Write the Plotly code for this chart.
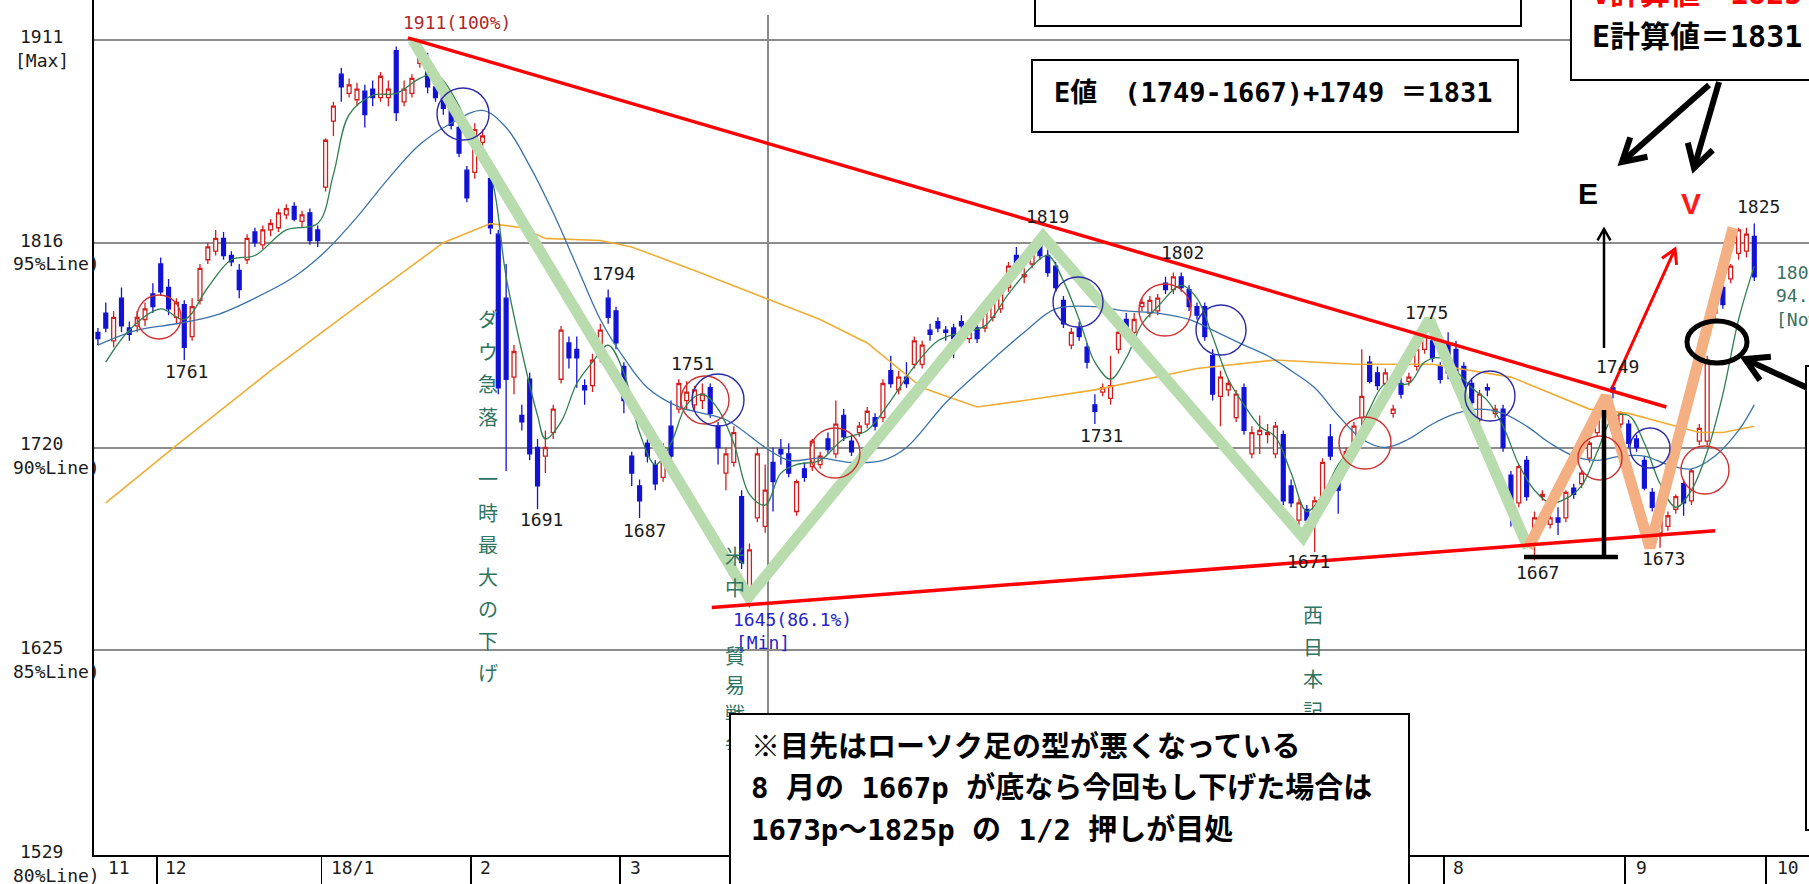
import math
import plotly.graph_objects as go

# ---------------- data (TOPIX daily candles) ----------------
O = [1774,1783,1770,1790,1776,1777,1780,1792,1806,1795,1781,1787,1772,1789,1808,1812,1818,1810,1803,1808,
     1821,1815,1822,1823,1829,1833,1826,1830,1822,1842,1873,1895,1886,1883,1887,1888,1884,1884,1906,1882,
     1886,1900,1897,1889,1886,1881,1870,1850,1849,1863,1846,1820,1790,1753,1735,1752,1720,1716,1727,1752,
     1769,1766,1749,1749,1762,1790,1784,1758,1716,1702,1722,1712,1706,1730,1738,1742,1740,1742,1748,1730,
     1708,1713,1697,1653,1687,1683,1713,1719,1717,1690,1710,1711,1712,1724,1717,1735,1723,1727,1731,1734,
     1734,1756,1747,1753,1759,1759,1775,1779,1775,1776,1779,1771,1776,1776,1781,1785,1795,1810,1800,1806,
     1815,1810,1805,1789,1768,1776,1767,1740,1746,1743,1766,1780,1774,1786,1783,1784,1797,1794,1800,1794,
     1786,1786,1763,1744,1747,1734,1748,1717,1726,1726,1717,1726,1702,1686,1691,1689,1697,1725,1705,1712,
     1721,1734,1760,1755,1750,1736,1750,1751,1758,1766,1770,1758,1769,1766,1758,1750,1733,1748,1736,1738,
     1707,1694,1714,1678,1697,1684,1687,1687,1701,1703,1715,1727,1738,1748,1731,1731,1724,1714,1699,1680,
     1683,1691,1703,1695,1723,1723,1783,1795,1799,1811,1812,1819]
H = [1776,1788,1784,1795,1779,1784,1788,1797,1809,1799,1790,1789,1790,1806,1816,1822,1821,1812,1806,1820,
     1823,1824,1827,1832,1834,1835,1831,1832,1824,1865,1882,1898,1893,1891,1890,1892,1896,1892,1908,1892,
     1895,1911,1905,1892,1888,1884,1872,1852,1872,1869,1849,1822,1806,1768,1740,1755,1724,1728,1740,1777,
     1772,1772,1752,1764,1778,1794,1786,1760,1718,1705,1724,1714,1722,1742,1752,1751,1749,1750,1750,1732,
     1720,1730,1700,1675,1720,1712,1720,1724,1722,1705,1713,1724,1718,1727,1742,1738,1726,1732,1739,1736,
     1752,1763,1756,1760,1772,1770,1778,1781,1777,1778,1782,1778,1779,1786,1791,1794,1807,1814,1804,1815,
     1819,1813,1807,1791,1776,1779,1769,1745,1750,1763,1776,1783,1783,1790,1791,1792,1800,1802,1802,1796,
     1788,1788,1766,1756,1752,1747,1750,1730,1735,1731,1732,1728,1705,1696,1693,1697,1715,1731,1708,1720,
     1732,1766,1763,1758,1757,1740,1753,1755,1768,1775,1772,1760,1774,1770,1760,1752,1747,1750,1740,1740,
     1709,1712,1716,1690,1700,1689,1692,1700,1703,1709,1723,1737,1743,1749,1737,1733,1726,1716,1701,1687,
     1690,1698,1705,1710,1731,1763,1788,1797,1806,1823,1823,1825]
L = [1768,1774,1767,1774,1770,1774,1777,1783,1791,1782,1778,1761,1770,1787,1806,1810,1808,1805,1790,1806,
     1814,1813,1819,1821,1827,1826,1823,1815,1814,1840,1866,1882,1884,1880,1870,1880,1882,1880,1873,1880,
     1884,1898,1886,1882,1876,1869,1856,1835,1846,1858,1820,1745,1709,1745,1728,1714,1691,1708,1724,1750,
     1757,1748,1740,1746,1760,1778,1766,1736,1702,1687,1713,1700,1704,1714,1736,1738,1737,1738,1734,1712,
     1700,1711,1663,1645,1685,1680,1690,1712,1706,1688,1704,1709,1710,1717,1715,1723,1716,1725,1729,1728,
     1732,1748,1745,1748,1757,1757,1770,1774,1770,1762,1775,1769,1769,1774,1779,1783,1793,1800,1797,1804,
     1808,1800,1793,1776,1766,1770,1757,1731,1744,1740,1764,1772,1772,1784,1781,1782,1792,1792,1793,1784,
     1780,1770,1742,1730,1744,1732,1726,1715,1717,1722,1715,1693,1692,1683,1681,1671,1695,1714,1689,1710,
     1719,1730,1750,1747,1748,1734,1743,1749,1756,1764,1760,1750,1752,1750,1737,1738,1731,1744,1734,1718,
     1683,1692,1695,1667,1695,1682,1679,1685,1696,1701,1713,1725,1736,1743,1729,1720,1718,1700,1690,1673,
     1681,1689,1688,1693,1721,1721,1780,1785,1797,1808,1809,1798]
C = [1771,1776,1781,1777,1773,1781,1785,1786,1793,1785,1788,1767,1786,1804,1814,1818,1810,1807,1794,1818,
     1816,1822,1825,1830,1832,1827,1829,1817,1817,1864,1880,1889,1890,1888,1876,1884,1894,1888,1877,1888,
     1893,1906,1889,1884,1879,1871,1858,1837,1869,1866,1823,1748,1752,1765,1732,1717,1702,1720,1738,1775,
     1762,1762,1747,1761,1775,1781,1769,1742,1708,1695,1716,1703,1720,1716,1750,1746,1747,1745,1736,1720,
     1717,1727,1666,1672,1717,1700,1704,1717,1708,1704,1706,1723,1716,1719,1731,1725,1718,1730,1737,1730,
     1750,1750,1753,1750,1770,1768,1773,1776,1774,1771,1777,1776,1771,1784,1789,1792,1805,1802,1801,1813,
     1810,1802,1795,1778,1774,1772,1760,1737,1748,1749,1774,1774,1780,1788,1789,1790,1794,1800,1795,1786,
     1782,1772,1745,1753,1750,1745,1728,1727,1728,1727,1730,1695,1694,1694,1686,1695,1713,1716,1700,1718,
     1730,1744,1751,1749,1755,1738,1745,1753,1766,1772,1762,1752,1755,1753,1739,1741,1745,1747,1738,1720,
     1695,1711,1697,1687,1698,1687,1685,1699,1698,1708,1722,1736,1742,1746,1736,1722,1720,1701,1692,1686,
     1688,1697,1694,1709,1729,1761,1786,1787,1805,1822,1820,1800]

# moving-average lines, read at sparse points (candle index, value)
ma_short_i = [1,4,8,11,14,17,20,24,28,30,32,35,38,41,43,46,48,50,52,54,56,57,59,61,63,65,67,69,71,73,
              75,77,79,81,83,85,87,89,92,95,98,101,104,107,110,113,116,119,121,123,125,127,129,131,133,135,
              138,140,142,144,146,148,150,152,154,156,158,160,162,164,167,169,171,173,175,177,179,181,183,
              185,187,189,191,193,195,197,199,201,203,205,207,209,211]
ma_short_v = [1760,1775,1785,1780,1795,1808,1810,1822,1825,1848,1876,1885,1886,1893,1895,1880,1860,1848,1800,
              1765,1735,1724,1732,1750,1760,1768,1755,1727,1712,1722,1740,1745,1738,1722,1698,1693,1708,1712,
              1714,1724,1728,1742,1758,1770,1774,1777,1792,1805,1810,1798,1780,1760,1752,1762,1778,1786,1796,
              1790,1772,1752,1740,1730,1725,1708,1690,1698,1712,1722,1738,1750,1750,1760,1762,1756,1748,1742,
              1730,1712,1700,1694,1696,1702,1718,1734,1735,1722,1703,1692,1700,1718,1745,1780,1805]
ma_mid_i = [0,5,10,15,20,25,29,33,37,41,45,49,52,55,58,61,64,67,70,74,80,85,88,92,96,100,103,108,113,118,
            122,127,131,135,139,142,146,149,152,155,158,161,164,167,170,173,176,179,182,185,188,191,194,197,
            200,203,206,209,211]
ma_mid_v = [1768,1775,1778,1782,1790,1800,1812,1828,1846,1862,1872,1878,1870,1852,1830,1805,1780,1762,1748,
            1739,1733,1720,1714,1715,1713,1714,1720,1741,1758,1774,1785,1786,1784,1783,1780,1775,1768,1763,
            1756,1748,1735,1724,1720,1724,1731,1736,1738,1736,1730,1722,1716,1714,1716,1716,1712,1710,1716,
            1728,1740]
ma_long_i = [1,10,22,34,44,50,54,57,64,68,76,85,92,98,105,112,118,127,140,150,160,170,180,190,195,200,204,207,211]
ma_long_v = [1694,1721,1756,1789,1816,1825,1823,1818,1817,1814,1803,1790,1780,1769,1748,1739,1742,1747,1757,
             1761,1759,1759,1753,1738,1736,1731,1727,1727,1730]

# wave pivots (index, value) for the thick zig-zag lines
wave_green_i = [40.1, 82.9, 120.4, 153.5, 169.6, 182.2]
wave_green_v = [1911, 1650, 1819, 1678, 1780, 1673]
wave_orange_i = [182.2, 192.1, 197.7, 208.3]
wave_orange_v = [1673, 1744, 1673, 1823]

# trend lines (index, value)
trend_upper_i = [39.5, 199.8]
trend_upper_v = [1912, 1739]
trend_lower_i = [78.2, 206.0]
trend_lower_v = [1645, 1681]

# axis labels
y_ticks = [1911, 1816, 1720, 1625, 1529]
y_tick_sub = ["[Max]", "95%Line)", "90%Line)", "85%Line)", "80%Line)"]
month_bounds = [7.5, 28.5, 47.5, 66.5, 87.5, 107.5, 128.5, 149.5, 171.5, 194.5, 212.5]
month_labels = ["11", "12", "18/1", "2", "3", "8", "9", "10"]

# ---------------- pixel helpers (layout positions only) ----------------
PX0, PXW, PY0, PYS, VTOP = 94.0, 7.85, 40.0, 2.1335, 1911.0
PLOT_W, PLOT_H = 1809 - 94, 855
def X(px):
    return (px - PX0) / PXW - 0.5
def Y(py):
    return VTOP - (py - PY0) / PYS
def XP(px):
    return (px - PX0) / PLOT_W
def YP(py):
    return (PLOT_H - py) / PLOT_H

MONO = "DejaVu Sans Mono"
JP = "Noto Sans CJK JP"
MIX = "DejaVu Sans Mono, Noto Sans CJK JP"

fig = go.Figure()

# moving averages
fig.add_trace(go.Scatter(x=ma_long_i, y=ma_long_v, mode="lines", line=dict(color="#f0ad35", width=1.6), hoverinfo="skip"))
fig.add_trace(go.Scatter(x=ma_mid_i, y=ma_mid_v, mode="lines", line=dict(color="#3a72a8", width=1.3, shape="spline"), hoverinfo="skip"))
fig.add_trace(go.Scatter(x=ma_short_i, y=ma_short_v, mode="lines", line=dict(color="#2f8050", width=1.3, shape="spline"), hoverinfo="skip"))

# candles
fig.add_trace(go.Candlestick(
    x=list(range(len(C))), open=O, high=H, low=L, close=C,
    increasing=dict(line=dict(color="#d41e1e", width=1.3), fillcolor="#ffffff"),
    decreasing=dict(line=dict(color="#1212d6", width=1.3), fillcolor="#1212d6"),
    whiskerwidth=0, hoverinfo="skip"))

# thick waves
fig.add_trace(go.Scatter(x=wave_green_i, y=wave_green_v, mode="lines",
                         line=dict(color="#b9dcae", width=11), hoverinfo="skip"))
fig.add_trace(go.Scatter(x=wave_orange_i, y=wave_orange_v, mode="lines",
                         line=dict(color="#f4b083", width=11), hoverinfo="skip"))
# trend lines
fig.add_trace(go.Scatter(x=trend_upper_i, y=trend_upper_v, mode="lines", line=dict(color="#ff0000", width=3.5), hoverinfo="skip"))
fig.add_trace(go.Scatter(x=trend_lower_i, y=trend_lower_v, mode="lines", line=dict(color="#ff0000", width=3.5), hoverinfo="skip"))

shapes = []
# vertical grid line
shapes.append(dict(type="line", xref="x", yref="y", x0=X(768), x1=X(768), y0=Y(15), y1=Y(855),
                   line=dict(color="#8a8a8a", width=2), layer="below"))

# circles (pixel centre, radius)
red_c = [(159, 317, 22), (705, 400, 24), (835, 453, 25), (1165, 310, 26), (1365, 443, 26), (1600, 458, 22), (1705, 470, 24)]
blue_c = [(463, 114, 26), (718, 400, 26), (1078, 302, 25), (1221, 330, 25), (1490, 396, 25), (1650, 448, 20)]
for cx, cy, r in red_c:
    shapes.append(dict(type="circle", xref="x", yref="y", x0=X(cx - r), x1=X(cx + r), y0=Y(cy + r), y1=Y(cy - r),
                       line=dict(color="#d03030", width=1.4), layer="above"))
for cx, cy, r in blue_c:
    shapes.append(dict(type="circle", xref="x", yref="y", x0=X(cx - r), x1=X(cx + r), y0=Y(cy + r), y1=Y(cy - r),
                       line=dict(color="#2a2aa8", width=1.4), layer="above"))

# thick black ellipse
shapes.append(dict(type="circle", xref="x", yref="y", x0=X(1687), x1=X(1747), y0=Y(363), y1=Y(321),
                   line=dict(color="#000000", width=5), layer="above"))

def seg_path(pts):
    return "M " + " L ".join(f"{X(a):.4f},{Y(b):.4f}" for a, b in pts)

def arrow(x1, y1, x2, y2, color, width, head, ang=30):
    dx, dy = x2 - x1, y2 - y1
    d = math.hypot(dx, dy)
    bx, by = -dx / d, -dy / d
    wings = []
    for s in (1, -1):
        a = math.radians(ang * s)
        rx = bx * math.cos(a) - by * math.sin(a)
        ry = bx * math.sin(a) + by * math.cos(a)
        wings.append((x2 + head * rx, y2 + head * ry))
    shapes.append(dict(type="path", path=seg_path([(x1, y1), (x2, y2)]), xref="x", yref="y",
                       line=dict(color=color, width=width), layer="above"))
    shapes.append(dict(type="path", path=seg_path([wings[0], (x2, y2), wings[1]]), xref="x", yref="y",
                       line=dict(color=color, width=width), layer="above"))

arrow(1709, 85, 1622, 162, "#000000", 6, 26)
arrow(1719, 82, 1694, 168, "#000000", 6, 26)
arrow(1604, 348, 1604, 229, "#000000", 2.5, 13)
arrow(1612, 388, 1675, 249, "#ff0000", 3, 16)
arrow(1812, 390, 1745, 359, "#000000", 6, 26)

# measuring bracket
shapes.append(dict(type="path", path=seg_path([(1604, 410), (1604, 557)]), xref="x", yref="y",
                   line=dict(color="#000000", width=4.5), layer="above"))
shapes.append(dict(type="path", path=seg_path([(1524, 557), (1618, 557)]), xref="x", yref="y",
                   line=dict(color="#000000", width=4.5), layer="above"))
# right-edge box
shapes.append(dict(type="rect", xref="x", yref="y", x0=X(1806), x1=X(1860), y0=Y(830), y1=Y(366),
                   line=dict(color="#000000", width=2), fillcolor="#ffffff", layer="above"))

ann = []
def txt(s, px, py, size=18, color="#1a1a1a", xa="center", family=MONO, ya="middle"):
    ann.append(dict(text=s, x=XP(px), y=YP(py), xref="paper", yref="paper", showarrow=False,
                    xanchor=xa, yanchor=ya, font=dict(family=family, size=size, color=color)))

# price labels
for s, px, py in [("1761", 186, 371), ("1691", 541, 519), ("1794", 613, 273), ("1687", 644, 530),
                  ("1751", 692, 363), ("1819", 1047, 217), ("1731", 1101, 435), ("1802", 1182, 252),
                  ("1671", 1308, 561), ("1775", 1426, 312), ("1749", 1617, 367), ("1667", 1537, 572),
                  ("1673", 1663, 558), ("1825", 1758, 207)]:
    txt(s, px, py, 18)
txt("1911(100%)", 401, 22, 18, color="#b02828", xa="left")
txt("1645(86.1%)", 731, 619, 18, color="#2525c8", xa="left")
txt("[Min]", 734, 642, 18, color="#2525c8", xa="left")
for s, py in [("1806", 272), ("94.5%", 295), ("[Now]", 319)]:
    txt(s, 1774, py, 18, color="#3a7060", xa="left")

# vertical news notes
GREEN_T = "#2f7462"
for ch, py in zip("ダウ急落", [318, 351, 384, 417]):
    txt(ch, 488, py, 20, GREEN_T, family=JP)
for ch, py in zip("一時最大の下げ", [478, 512, 544, 576, 608, 640, 672]):
    txt(ch, 488, py, 20, GREEN_T, family=JP)
for ch, py in zip("米中貿易戦争", [555, 588, 655, 684, 714, 744]):
    txt(ch, 735, py, 20, GREEN_T, family=JP)
for ch, py in zip("西日本記録", [614, 646, 678, 710, 742]):
    txt(ch, 1313, py, 20, GREEN_T, family=JP)

# y tick labels
tick_py = [37, 240, 443, 647, 851]
for v, sub, py in zip(y_ticks, y_tick_sub, tick_py):
    txt(str(v), 41, py, 18)
    if sub == "[Max]":
        txt(sub, 42, py + 23, 18)
    else:
        txt(sub, 11, py + 24, 18, xa="left")

# month labels
month_px = [106, 163, 329, 478, 628, 1451, 1634, 1775]
for s, px in zip(month_labels, month_px):
    txt(s, px, 868, 18, xa="left")

# E / V marks
txt("<b>E</b>", 1588, 194, 30, "#000000", family="Liberation Sans")
txt("<b>V</b>", 1691, 203, 30, "#ff1a1a", family="Liberation Sans")

# boxes (drawn as annotations so they cover the notes beneath)
def box(x0, y0, x1, y1):
    ann.append(dict(text=" ", x=XP(x0), y=YP(y0), xref="paper", yref="paper", showarrow=False,
                    xanchor="left", yanchor="top", width=x1 - x0 - 4, height=y1 - y0 - 4,
                    bgcolor="#ffffff", bordercolor="#000000", borderwidth=2, borderpad=0,
                    font=dict(size=10)))

box(1034, -60, 1522, 27)
box(1031, 59, 1519, 133)
box(1570, -60, 1900, 81)
box(729, 713, 1410, 890)

txt("<b>E値　(1749-1667)+1749 ＝1831</b>", 1052, 92, 27, "#000000", xa="left", family=MIX)
txt("<b>V計算値＝1825</b>", 1590, -6, 30, "#ff0000", xa="left", family=MIX)
txt("<b>E計算値＝1831</b>", 1590, 37, 30, "#000000", xa="left", family=MIX)
txt("<b>※目先はローソク足の型が悪くなっている</b>", 749, 747, 29, "#000000", xa="left", family=MIX)
txt("<b>8 月の 1667p が底なら今回もし下げた場合は</b>", 749, 788, 29, "#000000", xa="left", family=MIX)
txt("<b>1673p〜1825p の 1/2 押しが目処</b>", 749, 830, 29, "#000000", xa="left", family=MIX)

fig.update_layout(
    width=1809, height=884, autosize=False,
    margin=dict(l=94, r=0, t=0, b=29),
    paper_bgcolor="#ffffff", plot_bgcolor="#ffffff",
    showlegend=False, hovermode=False,
    shapes=shapes, annotations=ann,
    font=dict(family=MONO, size=16, color="#1a1a1a"),
    xaxis=dict(range=[-0.5, (1809 - PX0) / PXW - 0.5], showgrid=False, zeroline=False,
               tickmode="array", tickvals=month_bounds, ticks="outside", ticklen=29, tickwidth=1.5,
               tickcolor="#000000", showticklabels=False, showline=True, linecolor="#000000",
               linewidth=2, rangeslider=dict(visible=False), fixedrange=True),
    yaxis=dict(range=[1529, VTOP + PY0 / PYS], tickmode="array", tickvals=[1625, 1720, 1816, 1911],
               showgrid=True, gridcolor="#8c8c8c", gridwidth=2, showticklabels=False, ticks="",
               zeroline=False, showline=True, linecolor="#000000", linewidth=2, fixedrange=True),
)

fig.write_html("out.html", config={"displayModeBar": False, "staticPlot": True},
               post_script="document.body.style.margin='0';document.body.style.overflow='hidden';")
